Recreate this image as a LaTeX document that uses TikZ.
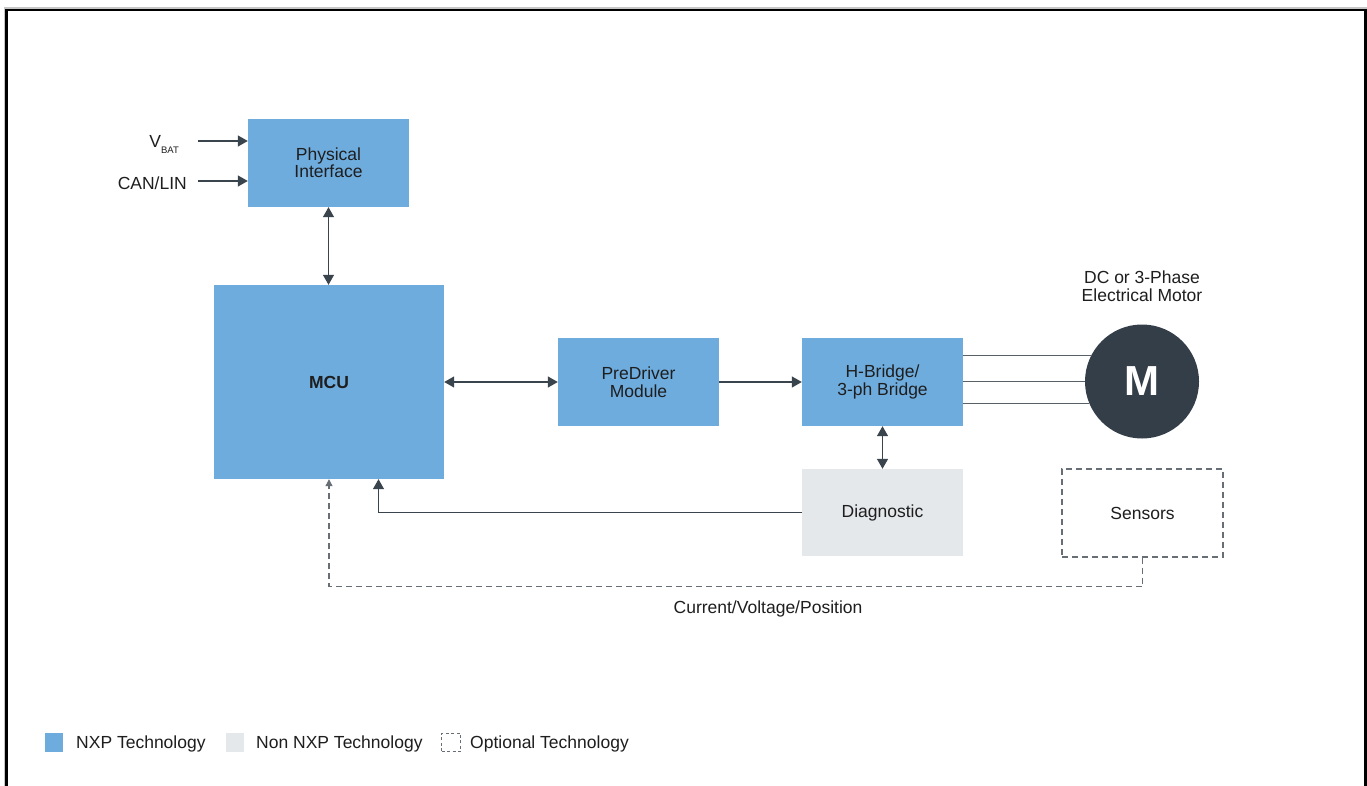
\documentclass[tikz,border=0pt]{standalone}
\usepackage{fontspec}
\setmainfont{Liberation Sans}
\usetikzlibrary{arrows.meta,calc}
\definecolor{nxpblue}{HTML}{6FACDE}
\definecolor{nongray}{HTML}{E4E8EB}
\definecolor{motorc}{HTML}{333E48}
\definecolor{linec}{HTML}{3A444D}
\definecolor{dashc}{HTML}{676E75}
\definecolor{txtc}{HTML}{1E1E1E}
\begin{document}
\begin{tikzpicture}[x=1pt,y=-1pt,
  every node/.style={font=\fontsize{17.5}{17.5}\selectfont, text=txtc, inner sep=0pt},
  blk/.style={rectangle, fill=nxpblue, minimum width=161pt, minimum height=88pt, align=center},
  nonblk/.style={blk, fill=nongray},
  optblk/.style={blk, fill=none, draw=dashc, line width=1.1pt, dash pattern=on 6pt off 4pt},
  arr/.style={draw=linec, line width=1.3pt, -{Triangle[length=10pt,width=11pt]}},
  darr/.style={draw=linec, line width=1.3pt, {Triangle[length=10pt,width=11pt]}-{Triangle[length=10pt,width=11pt]}},
  dsh/.style={draw=dashc, line width=1.1pt, dash pattern=on 6pt off 4pt},
  mline/.style={draw=linec!85, line width=1.3pt},
  legsq/.style={rectangle, minimum size=18.5pt},
  legtxt/.style={anchor=west}
]
\useasboundingbox (0,0) rectangle (1367,786);
\fill[white] (0,0) rectangle (1367,786);
% frame
\draw[gray!45, line width=1.5pt] (4.6,786) -- (4.6,7.8) -- (1367,7.8);
\draw[black, line width=2.4pt] (6.6,786) -- (6.6,10.3) -- (1365.5,10.3) -- (1365.5,786);

% blocks
\node[blk] (phys) at (328.5,163) {\raisebox{1pt}{Physical}\\\raisebox{1pt}{Interface}};
\node[blk, minimum width=230pt, minimum height=194pt, font=\fontsize{17.5}{17.5}\selectfont\bfseries] (mcu) at (329,382) {MCU};
\node[blk] (pre) at (638.5,382) {PreDriver\\Module};
\node[blk] (hb) at (882.5,382) {H-Bridge/\\3-ph Bridge};
\node[nonblk, minimum height=87pt] (diag) at (882.5,512.5) {\raisebox{-1.5pt}{Diagnostic}};
\node[optblk] (sens) at (1142.5,513) {Sensors};
\node[circle, fill=motorc, minimum size=114pt, text=white, font=\fontsize{42}{42}\selectfont\bfseries] (motor) at (1142,381.5) {M};
\node[align=center] (mlabel) at (1142,286) {DC or 3-Phase\\Electrical Motor};

% inputs
\node[anchor=base east] (vbat) at (179,147.7) {V\raisebox{-6.3pt}{\fontsize{9.5}{9.5}\selectfont BAT}};
\node[anchor=base east] (canlin) at (187,190) {CAN/LIN};
\coordinate (vbatin) at (198,141);
\coordinate (canin) at (198,181);
\draw[arr] (vbatin) -- (vbatin -| phys.west);
\draw[arr] (canin) -- (canin -| phys.west);

% connectors
\draw[darr] (phys.south) -- (phys.south |- mcu.north);
\draw[darr] (mcu.east) -- (pre.west);
\draw[arr] (pre.east) -- (hb.west);
\draw[darr] (hb.south) -- (diag.north);
\draw[arr] (diag.west) -| ([xshift=49.5pt]mcu.south);
\draw[dsh, -{Triangle[length=7pt,width=7pt]}] (sens.south) -- ++(0,29) -| (mcu.south);
\node (cvp) at (768,608.5) {Current/Voltage/Position};

% motor lines
\draw[mline] (hb.east |- motor.153.4) -- (motor.153.4);
\draw[mline] (hb.east |- motor.west) -- (motor.west);
\draw[mline] (hb.east |- motor.203.3) -- (motor.203.3);

% legend
\node[legsq, fill=nxpblue] (lg1) at (54,742.5) {};
\node[legtxt] (lt1) at (76,743.5) {NXP Technology};
\node[legsq, fill=nongray] (lg2) at (235,742.5) {};
\node[legtxt] (lt2) at (256,743.5) {Non NXP Technology};
\node[legsq, draw=dashc, line width=1pt, dash pattern=on 3pt off 2.5pt, minimum width=19pt] (lg3) at (451,742.5) {};
\node[legtxt] (lt3) at (470,743.5) {Optional Technology};
\end{tikzpicture}
\end{document}
